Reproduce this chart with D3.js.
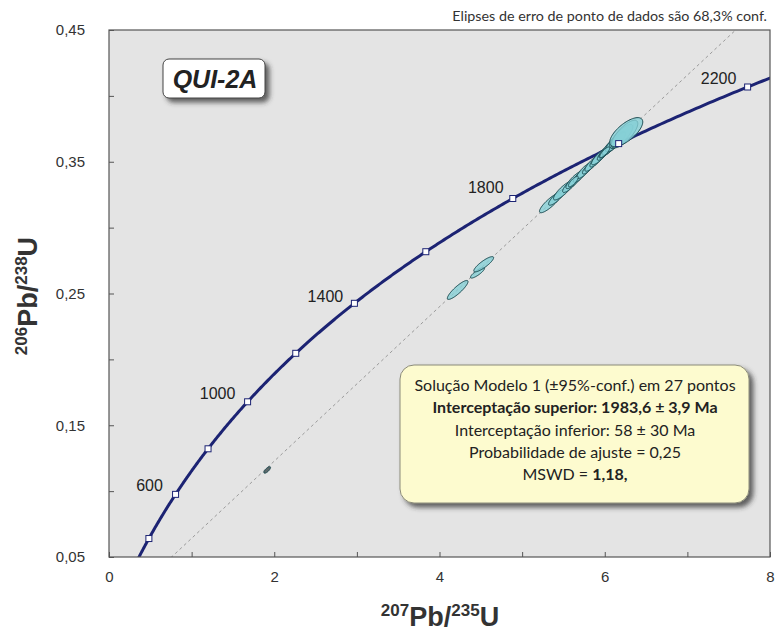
<!DOCTYPE html>
<html>
<head>
<meta charset="utf-8">
<script src="https://cdn.jsdelivr.net/npm/d3@7"></script>
<style>
  html, body { margin: 0; padding: 0; background: #ffffff; }
  svg { display: block; }
</style>
</head>
<body>
<script>
// U-Pb concordia diagram, sample QUI-2A

// Axis ticks
const xTicks = [0, 1, 2, 3, 4, 5, 6, 7, 8];
const xTickLabels = ["0", "", "2", "", "4", "", "6", "", "8"];
const yTicks = [0.05, 0.10, 0.15, 0.20, 0.25, 0.30, 0.35, 0.40, 0.45];
const yTickLabels = ["0,05", "", "0,15", "", "0,25", "", "0,35", "", "0,45"];

// Concordia age markers (Ma) and which of them are labelled
const markerAges = [400, 600, 800, 1000, 1200, 1400, 1600, 1800, 2000, 2200];
const labelledAges = [600, 1000, 1400, 1800, 2200];

// Discordia intercepts (Ma)
const upperIntercept = 1983.6;
const lowerIntercept = 58;

// Data-point error ellipses: 207Pb/235U, 1s, 206Pb/238U, 1s, error correlation
const ellX   = [1.915, 4.22, 4.46, 4.535,
                5.34, 5.42, 5.50, 5.58, 5.64, 5.70, 5.76, 5.80, 5.85, 5.90, 5.94, 5.98,
                6.02, 6.05, 6.08, 6.10, 6.13, 6.16, 6.20, 6.24, 6.26, 6.00, 5.62];
const ellSX  = [0.040, 0.125, 0.085, 0.12,
                0.13, 0.10, 0.12, 0.09, 0.11, 0.08, 0.10, 0.07, 0.09, 0.08, 0.10, 0.07,
                0.09, 0.08, 0.11, 0.07, 0.12, 0.09, 0.14, 0.16, 0.20, 0.06, 0.06];
const ellY   = [0.1161, 0.2527, 0.2657, 0.2722,
                0.3188, 0.3230, 0.3282, 0.3322, 0.3364, 0.3393, 0.3434, 0.3452, 0.3486, 0.3510, 0.3540, 0.3557,
                0.3586, 0.3598, 0.3622, 0.3627, 0.3652, 0.3662, 0.3693, 0.3710, 0.3725, 0.3572, 0.3350];
const ellSY  = [0.0025, 0.0072, 0.0040, 0.0058,
                0.0075, 0.0060, 0.0072, 0.0055, 0.0068, 0.0050, 0.0062, 0.0045, 0.0058, 0.0050, 0.0063, 0.0046,
                0.0058, 0.0052, 0.0070, 0.0046, 0.0078, 0.0060, 0.0090, 0.0105, 0.0110, 0.0040, 0.0040];
const ellRho = [0.75, 0.88, 0.85, 0.86,
                0.86, 0.84, 0.85, 0.83, 0.85, 0.82, 0.84, 0.81, 0.83, 0.82, 0.84, 0.81,
                0.83, 0.82, 0.83, 0.80, 0.82, 0.80, 0.80, 0.76, 0.70, 0.80, 0.80];

// Result box text
const resultLines = [
  [{t: "Solução Modelo 1 (±95%-conf.) em 27 pontos", b: false}],
  [{t: "Interceptação superior: 1983,6 ± 3,9 Ma", b: true}],
  [{t: "Interceptação inferior: 58 ± 30 Ma", b: false}],
  [{t: "Probabilidade de ajuste = 0,25", b: false}],
  [{t: "MSWD = ", b: false}, {t: "1,18,", b: true}]
];

// Decay constants (1/Ma)
const L238 = 1.55125e-4;
const L235 = 9.8485e-4;
const conc = t => [Math.exp(L235 * t) - 1, Math.exp(L238 * t) - 1];

const W = 778, H = 633;
const M = {left: 109, right: 8, top: 30, bottom: 76};
const pw = W - M.left - M.right, ph = H - M.top - M.bottom;

const x = d3.scaleLinear().domain([0, 8]).range([M.left, M.left + pw]);
const y = d3.scaleLinear().domain([0.05, 0.45]).range([M.top + ph, M.top]);

const svg = d3.select("body").append("svg").attr("width", W).attr("height", H);

const defs = svg.append("defs");
const sh = defs.append("filter").attr("id", "shadow")
  .attr("x", "-20%").attr("y", "-20%").attr("width", "150%").attr("height", "160%");
sh.append("feDropShadow").attr("dx", 4).attr("dy", 4).attr("stdDeviation", 2.5)
  .attr("flood-color", "#333").attr("flood-opacity", 0.75);
defs.append("clipPath").attr("id", "plotclip").append("rect")
  .attr("x", M.left).attr("y", M.top).attr("width", pw).attr("height", ph);

// Plot background
svg.append("rect").attr("x", M.left).attr("y", M.top).attr("width", pw).attr("height", ph)
  .attr("fill", "#e4e4e4");

const plot = svg.append("g").attr("clip-path", "url(#plotclip)");

// Discordia
const dUp = conc(upperIntercept), dLo = conc(lowerIntercept);
const slope = (dUp[1] - dLo[1]) / (dUp[0] - dLo[0]);
const dLine = xv => dLo[1] + slope * (xv - dLo[0]);
plot.append("line")
  .attr("x1", x(dLo[0])).attr("y1", y(dLine(dLo[0])))
  .attr("x2", x(8)).attr("y2", y(dLine(8)))
  .attr("stroke", "#9a9a9a").attr("stroke-width", 1).attr("stroke-dasharray", "3,3");

// Concordia curve
const ages = d3.range(0, 2400, 5);
plot.append("path")
  .attr("d", d3.line().x(t => x(conc(t)[0])).y(t => y(conc(t)[1]))(ages))
  .attr("fill", "none").attr("stroke", "#1c2373").attr("stroke-width", 3);

// Error ellipses
const ellipsePath = i => {
  const pts = d3.range(0, 2 * Math.PI + 0.01, Math.PI / 40).map(a => [
    x(ellX[i] + ellSX[i] * Math.cos(a)),
    y(ellY[i] + ellSY[i] * (ellRho[i] * Math.cos(a) + Math.sqrt(1 - ellRho[i] ** 2) * Math.sin(a)))
  ]);
  return d3.line()(pts) + "Z";
};
plot.selectAll("path.ell").data(d3.range(ellX.length)).join("path")
  .attr("class", "ell")
  .attr("d", ellipsePath)
  .attr("fill", i => i === 0 ? "#3c4a4c" : "#86d0d6")
  .attr("fill-opacity", 0.8)
  .attr("stroke", "#17474d").attr("stroke-width", 1);

// Concordia age markers
plot.selectAll("rect.mk").data(markerAges).join("rect")
  .attr("class", "mk")
  .attr("x", t => x(conc(t)[0]) - 3).attr("y", t => y(conc(t)[1]) - 3)
  .attr("width", 6).attr("height", 6)
  .attr("fill", "#ffffff").attr("stroke", "#1c2373").attr("stroke-width", 1);

// Age labels
const ageLabelOffset = {600: [-26, -8], 1000: [-30, -7], 1400: [-29, -6], 1800: [-27, -10], 2200: [-29, -7]};
svg.selectAll("text.age").data(labelledAges).join("text")
  .attr("class", "age")
  .attr("x", t => x(conc(t)[0]) + ageLabelOffset[t][0])
  .attr("y", t => y(conc(t)[1]) + ageLabelOffset[t][1])
  .attr("text-anchor", "middle").attr("dominant-baseline", "middle")
  .attr("font-family", "Liberation Sans, Arial, sans-serif").attr("font-size", 16)
  .attr("fill", "#222").text(t => t);

// Plot frame
svg.append("rect").attr("x", M.left).attr("y", M.top).attr("width", pw).attr("height", ph)
  .attr("fill", "none").attr("stroke", "#555").attr("stroke-width", 1.2);

// Axes (ticks point into the plot)
const xAxis = d3.axisBottom(x).tickValues(xTicks).tickSizeInner(-5).tickSizeOuter(0)
  .tickPadding(14).tickFormat((d, i) => xTickLabels[i]);
const gx = svg.append("g").attr("transform", `translate(0,${M.top + ph})`).call(xAxis);
gx.select(".domain").remove();
gx.selectAll("line").attr("stroke", "#555");
gx.selectAll("text").attr("font-family", "Liberation Sans, Arial, sans-serif")
  .attr("font-size", 15).attr("fill", "#333");

const yAxis = d3.axisLeft(y).tickValues(yTicks).tickSizeInner(-5).tickSizeOuter(0)
  .tickPadding(24).tickFormat((d, i) => yTickLabels[i]);
const gy = svg.append("g").attr("transform", `translate(${M.left},0)`).call(yAxis);
gy.select(".domain").remove();
gy.selectAll("line").attr("stroke", "#555");
gy.selectAll("text").attr("font-family", "Liberation Sans, Arial, sans-serif")
  .attr("font-size", 15).attr("fill", "#333");

// Axis titles
const xt = svg.append("text").attr("x", 440).attr("y", 626)
  .attr("text-anchor", "middle").attr("font-family", "Liberation Sans, Arial, sans-serif")
  .attr("font-weight", "bold").attr("font-size", 27).attr("fill", "#333");
xt.append("tspan").attr("font-size", 17).attr("dy", -10).text("207");
xt.append("tspan").attr("dy", 10).text("Pb/");
xt.append("tspan").attr("font-size", 17).attr("dy", -10).text("235");
xt.append("tspan").attr("dy", 10).text("U");

const yt = svg.append("text").attr("transform", `translate(37,296) rotate(-90)`)
  .attr("text-anchor", "middle").attr("font-family", "Liberation Sans, Arial, sans-serif")
  .attr("font-weight", "bold").attr("font-size", 27).attr("fill", "#333");
yt.append("tspan").attr("font-size", 17).attr("dy", -10).text("206");
yt.append("tspan").attr("dy", 10).text("Pb/");
yt.append("tspan").attr("font-size", 17).attr("dy", -10).text("238");
yt.append("tspan").attr("dy", 10).text("U");

// Note above the plot
svg.append("text").attr("x", 767).attr("y", 21).attr("text-anchor", "end")
  .attr("font-family", "Lato, Open Sans, sans-serif").attr("font-size", 14.3).attr("fill", "#333")
  .text("Elipses de erro de ponto de dados são 68,3% conf.");

// Sample name box
svg.append("rect").attr("x", 163).attr("y", 59).attr("width", 102).attr("height", 39).attr("rx", 6)
  .attr("fill", "#ffffff").attr("stroke", "#444").attr("stroke-width", 1)
  .attr("filter", "url(#shadow)");
svg.append("text").attr("x", 215).attr("y", 79).attr("text-anchor", "middle")
  .attr("dominant-baseline", "central")
  .attr("font-family", "Liberation Sans, Arial, sans-serif").attr("font-weight", "bold")
  .attr("font-style", "italic").attr("font-size", 25).attr("fill", "#222").text("QUI-2A");

// Result box
svg.append("rect").attr("x", 400).attr("y", 365).attr("width", 349).attr("height", 138).attr("rx", 14)
  .attr("fill", "#fdfbcf").attr("stroke", "#8a8a7a").attr("stroke-width", 1)
  .attr("filter", "url(#shadow)");
const rt = svg.append("g");
resultLines.forEach((parts, i) => {
  const tx = rt.append("text").attr("x", 575).attr("y", 384 + i * 22.3)
    .attr("text-anchor", "middle").attr("dominant-baseline", "central")
    .attr("font-family", "Lato, Open Sans, sans-serif").attr("font-size", 16).attr("fill", "#222");
  parts.forEach(p => tx.append("tspan").attr("font-weight", p.b ? "bold" : "normal").text(p.t));
});
</script>
</body>
</html>
